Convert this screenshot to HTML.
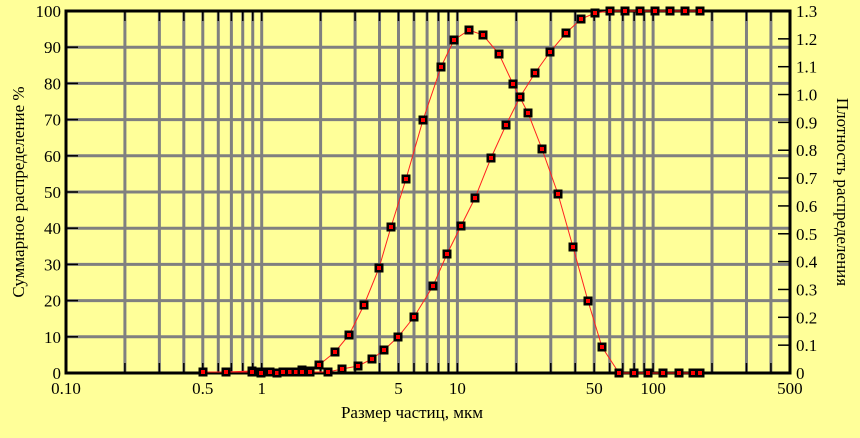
<!DOCTYPE html>
<html><head><meta charset="utf-8"><style>body{margin:0;background:#ffff99}</style></head><body>
<svg width="860" height="433" xmlns="http://www.w3.org/2000/svg" font-family="Liberation Serif, serif">
<rect width="860" height="433" fill="#ffff99"/>
<g id="grid" stroke="#808080" stroke-width="3"></g>
<g id="ticks" stroke="#000" stroke-width="1.5"></g>
<rect x="66" y="11" width="724" height="362" fill="none" stroke="#000" stroke-width="3"/>
<g id="labels" font-size="17" fill="#000"></g>
<text x="412" y="418" font-size="17" text-anchor="middle">Размер частиц, мкм</text>
<text transform="translate(24,192) rotate(-90)" font-size="17" text-anchor="middle">Суммарное распределение %</text>
<text transform="translate(837,192) rotate(90)" font-size="17" text-anchor="middle">Плотность распределения</text>
<polyline id="d" fill="none" stroke="#ff2020" stroke-width="1"/>
<polyline id="c" fill="none" stroke="#ff2020" stroke-width="1"/>
<g id="m"></g>
</svg>
<script>
const NS="http://www.w3.org/2000/svg";
function el(p,t,a,txt){const e=document.createElementNS(NS,t);for(const k in a)e.setAttribute(k,a[k]);if(txt!==undefined)e.textContent=txt;document.getElementById(p).appendChild(e);}
const X=v=>66+195.7*Math.log10(v/0.1);
for(let dec of [0.1,1,10,100]){for(let i=1;i<10;i++){const v=dec*i;if(v<=0.1||v>=500)continue;const x=X(v);
el('grid','line',{x1:x,y1:11,x2:x,y2:373});el('ticks','line',{x1:x,y1:11,x2:x,y2:21});el('ticks','line',{x1:x,y1:363,x2:x,y2:373});}}
for(let i=1;i<10;i++){const y=373-36.2*i;el('grid','line',{x1:66,y1:y,x2:790,y2:y});el('ticks','line',{x1:66,y1:y,x2:78,y2:y});}
for(let i=0;i<=10;i++){el('labels','text',{x:61,y:373-36.2*i+6,'text-anchor':'end'},String(i*10));}
for(let i=0;i<=13;i++){const y=373-27.846*i;if(i>0&&i<13)el('ticks','line',{x1:778,y1:y,x2:790,y2:y});el('labels','text',{x:796,y:y+6},i==0?'0':(i/10).toFixed(1));}
[[0.1,'0.10'],[0.5,'0.5'],[1,'1'],[5,'5'],[10,'10'],[50,'50'],[100,'100'],[500,'500']].forEach(a=>el('labels','text',{x:X(a[0]),y:394,'text-anchor':'middle'},a[1]));
const d=[[203,372],[226,372],[252,371],[261,372],[270,372],[277,373],[283,372],[290,372],[296,372],[302,370],[310,371],[319,365],[335,352],[349,335],[364,305],[379,268],[391,227],[406,179],[423,120],[441,67],[454,40],[469,30],[483,35],[499,54],[513,84],[528,113],[542,149],[558,194],[573,247],[588,301],[602,347],[619,373],[634,373],[648,373],[663,373],[679,373],[693,373],[700,373]];
const c=[[203,372],[226,372],[252,372],[261,373],[270,372],[277,373],[283,372],[290,372],[296,372],[302,372],[310,372],[328,372],[342,369],[358,366],[372,359],[384,350],[398,337],[414,317],[433,286],[447,254],[461,226],[475,198],[491,158],[506,125],[520,97],[535,73],[550,52],[566,33],[581,19],[595,13],[610,11],[625,11],[640,11],[655,11],[670,11],[685,11],[700,11]];
document.getElementById('d').setAttribute('points',d.map(p=>p.join(',')).join(' '));
document.getElementById('c').setAttribute('points',c.map(p=>p.join(',')).join(' '));
for(const p of d.concat(c)){el('m','rect',{x:p[0]-4.5,y:p[1]-4.5,width:9,height:9,fill:'#000'});el('m','rect',{x:p[0]-2,y:p[1]-2,width:4,height:4,fill:'#ff0000'});}
</script>
</body></html>
